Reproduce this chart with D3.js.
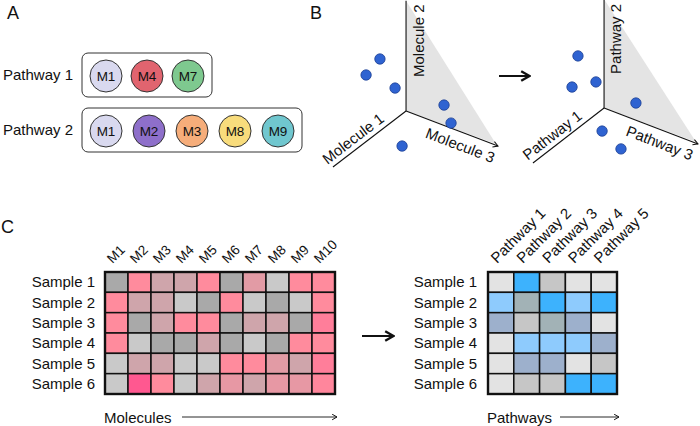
<!DOCTYPE html>
<html><head><meta charset="utf-8">
<script src="https://cdn.jsdelivr.net/npm/d3@7"></script>
<style>
body{margin:0;background:#fff}
svg{display:block}
text{font-family:"Liberation Sans",Arial,Helvetica,sans-serif;fill:#111}
</style>
</head><body>
<svg id="c" width="700" height="426"></svg>
<script>
// ---------- DATA ----------
const panelLetters = ["A", "B", "C"];
const pathwayNames = ["Pathway 1", "Pathway 2"];
const pathway1Members = ["M1", "M4", "M7"];
const pathway2Members = ["M1", "M2", "M3", "M8", "M9"];
const moleculeColorKeys = ["M1", "M2", "M3", "M4", "M7", "M8", "M9"];
const moleculeColorValues = ["#d9d9ef", "#8e6fca", "#f6ad7a", "#e1646f", "#7ec98f", "#f8dc7c", "#70c7cf"];

// panel B: projected positions (0-100 units in each 3D sketch)
const moleculeSpaceX = [33.3, 25.6, 41.7, 68.9, 72.8, 45.6];
const moleculeSpaceY = [65.3, 55.9, 48.2, 38.2, 27.6, 14.1];
const pathwaySpaceX = [32.2, 28.9, 42.2, 64.4, 45.6, 56.1];
const pathwaySpaceY = [67.1, 48.8, 51.8, 39.4, 22.9, 12.4];
const moleculeAxisLabels = ["Molecule 1", "Molecule 2", "Molecule 3"];
const pathwayAxisLabels = ["Pathway 1", "Pathway 2", "Pathway 3"];
// axis anchor points [origin, top, axis1 end, axis3 end] in the same units
const moleculeAxisX = [47.8, 47.8, 7.2, 98.9];
const moleculeAxisY = [34.7, 99.5, 1.8, 14.1];
const pathwayAxisX = [46.7, 46.7, 7.2, 98.9];
const pathwayAxisY = [36.5, 100.5, 4.1, 15.3];

// panel C
const molecules = ["M1", "M2", "M3", "M4", "M5", "M6", "M7", "M8", "M9", "M10"];
const samples = ["Sample 1", "Sample 2", "Sample 3", "Sample 4", "Sample 5", "Sample 6"];
const pathways = ["Pathway 1", "Pathway 2", "Pathway 3", "Pathway 4", "Pathway 5"];
const moleculeValues = [
  [0, 3, 2, 2, 3, 0, 2.4, 1, 3, 3],
  [3, 2, 2, 1, 0, 3, 1, 0, 1, 3],
  [3, 0, 2, 3, 3, 0, 2, 2, 0, 3.5],
  [3, 1, 0, 0, 2, 0, 1, 0, 3, 3],
  [1, 2, 2, 1, 1, 3, 3, 2.4, 2, 3.5],
  [1, 5, 3, 1, 2, 2.5, 2, 2.5, 2.5, 3.2]
];
const pathwayValues = [
  [0, 5, 1, 0, 0],
  [4, 2, 5, 4, 5],
  [3, 1, 2, 3, 0],
  [0, 4, 4, 4, 3],
  [0, 3, 3, 0, 1],
  [0, 1, 1, 5, 5]
];
const moleculeLevelDomain = [0, 1, 2, 3, 5];
const moleculeLevelColors = ["#a9a9a9", "#c9c9c9", "#cfa5ab", "#ff8b9d", "#ff5890"];
const pathwayLevelDomain = [0, 1, 2, 3, 4, 5];
const pathwayLevelColors = ["#e3e3e3", "#c6c6c6", "#a2b2b6", "#9db0cc", "#8ecbfd", "#3db2fd"];
const axisCaptions = ["Molecules", "Pathways"];

// ---------- DRAW ----------
const svg = d3.select("#c");
const defs = svg.append("defs");
defs.append("marker").attr("id", "thin").attr("viewBox", "0 0 10 10")
  .attr("refX", 9).attr("refY", 5).attr("markerWidth", 7).attr("markerHeight", 7)
  .attr("markerUnits", "userSpaceOnUse").attr("orient", "auto")
  .append("path").attr("d", "M2,1 L9,5 L2,9").attr("fill", "none").attr("stroke", "#111").attr("stroke-width", 1.4);
defs.append("marker").attr("id", "thick").attr("viewBox", "0 0 10 10")
  .attr("refX", 8.5).attr("refY", 5).attr("markerWidth", 12).attr("markerHeight", 14)
  .attr("markerUnits", "userSpaceOnUse").attr("orient", "auto")
  .append("path").attr("d", "M2,1 L9,5 L2,9").attr("fill", "none").attr("stroke", "#111").attr("stroke-width", 2);

// panel letters
const letterX = d3.scaleOrdinal().domain(panelLetters).range([7, 310, 1]);
const letterY = d3.scaleOrdinal().domain(panelLetters).range([19, 19, 233]);
svg.selectAll("text.letter").data(panelLetters).join("text").attr("class", "letter")
  .attr("x", d => letterX(d)).attr("y", d => letterY(d)).attr("font-size", 18).text(d => d);

// ---- Panel A ----
const molColor = d3.scaleOrdinal().domain(moleculeColorKeys).range(moleculeColorValues);
const rowY = d3.scalePoint().domain(pathwayNames).range([75, 130]);
const boxW = d3.scaleLinear().domain([3, 5]).range([130, 220]);
const groups = [pathway1Members, pathway2Members];
pathwayNames.forEach((name, i) => {
  const mem = groups[i];
  const cy = rowY(name);
  const left = 82, w = boxW(mem.length);
  const g = svg.append("g");
  g.append("rect").attr("x", left).attr("y", cy - 22).attr("width", w).attr("height", 44)
    .attr("rx", 6).attr("fill", "none").attr("stroke", "#333").attr("stroke-width", 1);
  g.append("text").attr("x", 3).attr("y", cy + 5).attr("font-size", 15).text(name);
  const px = d3.scalePoint().domain(mem).range([left + 24, left + w - 24]);
  const c = g.selectAll("g.m").data(mem).join("g").attr("transform", d => `translate(${px(d)},${cy + 1})`);
  c.append("circle").attr("r", 16).attr("fill", d => molColor(d)).attr("stroke", "#333").attr("stroke-width", 1);
  c.append("text").attr("text-anchor", "middle").attr("y", 5).attr("font-size", 13.5).text(d => d);
});

// ---- Panel B ----
function sketch3d(x0, ax, ay, px, py, labels, tdx) {
  const xs = d3.scaleLinear().domain([0, 100]).range([x0, x0 + 180]);
  const ys = d3.scaleLinear().domain([0, 100]).range([170, 0]);
  const P = i => [xs(ax[i]), ys(ay[i])];
  const o = P(0), top = P(1), a1 = P(2), a3 = P(3);
  const g = svg.append("g");
  g.append("path").attr("d", `M${top}L${o}L${a3[0] - 2},${a3[1] - 2}Z`).attr("fill", "#e4e4e4");
  g.append("line").attr("x1", o[0]).attr("y1", o[1]).attr("x2", top[0]).attr("y2", top[1]).attr("stroke", "#111").attr("stroke-width", 1.1);
  g.append("line").attr("x1", o[0]).attr("y1", o[1]).attr("x2", a1[0]).attr("y2", a1[1]).attr("stroke", "#111").attr("stroke-width", 1.1);
  g.append("line").attr("x1", o[0]).attr("y1", o[1]).attr("x2", a3[0]).attr("y2", a3[1]).attr("stroke", "#111").attr("stroke-width", 1.1).attr("marker-end", "url(#thin)");
  const ang = (p, q) => Math.atan2(q[1] - p[1], q[0] - p[0]) * 180 / Math.PI;
  // axis 1 label
  const t1 = 0.36, p1 = [a1[0] + (o[0] - a1[0]) * t1, a1[1] + (o[1] - a1[1]) * t1];
  g.append("text").attr("transform", `translate(${p1}) rotate(${ang(a1, o)})`).attr("text-anchor", "middle")
    .attr("dy", -5).attr("font-size", 15).text(labels[0]);
  // axis 2 label
  g.append("text").attr("transform", `translate(${top[0] + tdx},${o[1] - 34}) rotate(-90)`).attr("text-anchor", "start")
    .attr("font-size", 15).text(labels[1]);
  // axis 3 label
  const t3 = 0.64, p3 = [o[0] + (a3[0] - o[0]) * t3, o[1] + (a3[1] - o[1]) * t3];
  g.append("text").attr("transform", `translate(${p3}) rotate(${ang(o, a3)})`).attr("text-anchor", "middle")
    .attr("dy", 18).attr("font-size", 15).text(labels[2]);
  g.selectAll("circle").data(px).join("circle").attr("cx", d => xs(d)).attr("cy", (d, i) => ys(py[i]))
    .attr("r", 5.2).attr("fill", "#2f63d1").attr("stroke", "#1c3f93").attr("stroke-width", 0.8);
}
sketch3d(320, moleculeAxisX, moleculeAxisY, moleculeSpaceX, moleculeSpaceY, moleculeAxisLabels, 18);
sketch3d(520, pathwayAxisX, pathwayAxisY, pathwaySpaceX, pathwaySpaceY, pathwayAxisLabels, 17);
svg.append("line").attr("x1", 499).attr("y1", 76).attr("x2", 529).attr("y2", 76)
  .attr("stroke", "#111").attr("stroke-width", 2).attr("marker-end", "url(#thick)");

// ---- Panel C ----
function heatmap(cols, values, x0, x1, colorScale, labelRight, caption, arrowFrom) {
  const x = d3.scaleBand().domain(cols).range([x0, x1]);
  const y = d3.scaleBand().domain(samples).range([272, 394]);
  const g = svg.append("g");
  const cells = [];
  values.forEach((row, r) => row.forEach((v, c) => cells.push({ s: samples[r], m: cols[c], v })));
  g.selectAll("rect.cell").data(cells).join("rect").attr("class", "cell")
    .attr("x", d => x(d.m)).attr("y", d => y(d.s)).attr("width", x.bandwidth()).attr("height", y.bandwidth())
    .attr("fill", d => colorScale(d.v)).attr("stroke", "#111").attr("stroke-width", 1.5);
  g.append("rect").attr("x", x0).attr("y", 272).attr("width", x1 - x0).attr("height", 122)
    .attr("fill", "none").attr("stroke", "#111").attr("stroke-width", 2.4);
  g.selectAll("text.row").data(samples).join("text").attr("class", "row")
    .attr("x", labelRight).attr("y", d => y(d) + y.bandwidth() / 2 + 5).attr("text-anchor", "end")
    .attr("font-size", 15).text(d => d);
  g.selectAll("text.col").data(cols).join("text").attr("class", "col")
    .attr("transform", d => `translate(${x(d) + x.bandwidth() / 2 - 4},264) rotate(-45)`)
    .attr("font-size", cols.length > 5 ? 13.5 : 15).text(d => d);
  g.append("text").attr("x", x0 - 1).attr("y", 423).attr("font-size", 15).text(caption);
  g.append("line").attr("x1", arrowFrom).attr("y1", 417).attr("x2", x1 + 2).attr("y2", 417)
    .attr("stroke", "#111").attr("stroke-width", 0.9).attr("marker-end", "url(#thin)");
}
const molScale = d3.scaleLinear().domain(moleculeLevelDomain).range(moleculeLevelColors);
const pathScale = d3.scaleOrdinal().domain(pathwayLevelDomain).range(pathwayLevelColors);
heatmap(molecules, moleculeValues, 105, 335, molScale, 95, axisCaptions[0], 182);
heatmap(pathways, pathwayValues, 488, 617, pathScale, 477, axisCaptions[1], 560);
svg.append("line").attr("x1", 362).attr("y1", 336).attr("x2", 393).attr("y2", 336)
  .attr("stroke", "#111").attr("stroke-width", 2).attr("marker-end", "url(#thick)");
</script>
</body></html>
